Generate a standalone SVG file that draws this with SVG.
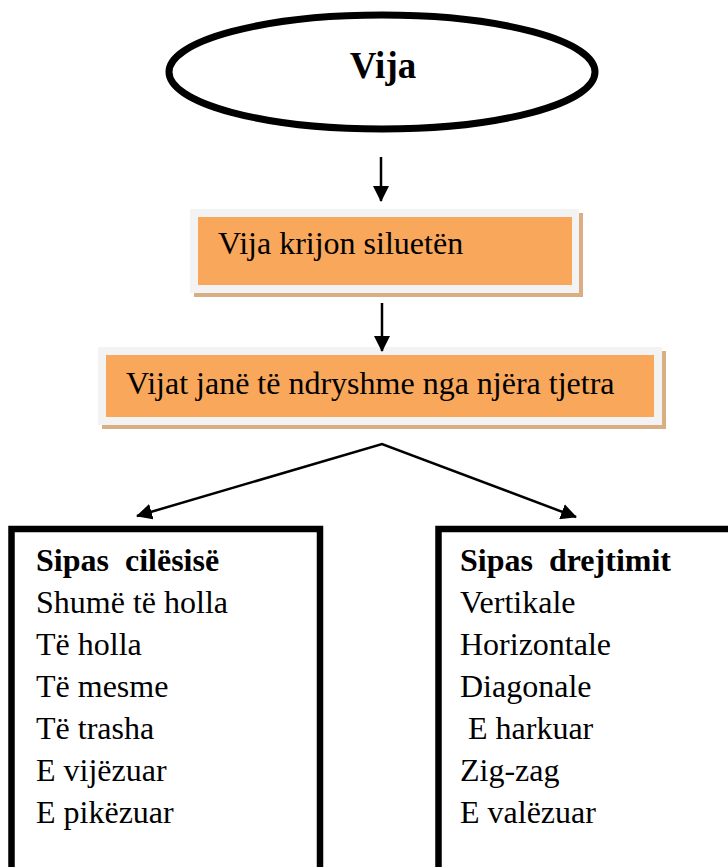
<svg xmlns="http://www.w3.org/2000/svg" width="728" height="867" viewBox="0 0 728 867">
<defs>
<style>
.t{font-family:"Liberation Serif","Times New Roman",serif;fill:#000}
.b{font-weight:bold}
.shadow{fill:#d9ae82}
.frame{fill:#f3f3f3}
.fill{fill:#f9a75a}
.conn{stroke:#000;stroke-width:2.5;fill:none}
.list{fill:#fff;stroke:#000;stroke-width:6.5}
</style>
<marker id="ah" viewBox="0 0 16 16" refX="15" refY="8" markerWidth="16" markerHeight="16" markerUnits="userSpaceOnUse" orient="auto-start-reverse">
<path d="M0,0 L16,8 L0,16 z" fill="#000"/>
</marker>
</defs>
<rect width="728" height="867" fill="#fff"/>
<g id="vija">
<ellipse cx="382" cy="72" rx="213" ry="57" fill="#fff" stroke="#000" stroke-width="7"/>
<text class="t b" x="383" y="78" font-size="37" text-anchor="middle">Vija</text>
</g>
<g id="box1">
<rect class="shadow" x="194" y="213" width="389" height="84"/>
<rect class="frame" x="190" y="209" width="389" height="84"/>
<rect class="fill" x="198" y="217" width="374" height="68"/>
<text class="t" x="218" y="254" font-size="32">Vija krijon siluetën</text>
</g>
<g id="box2">
<rect class="shadow" x="102" y="351" width="564" height="78"/>
<rect class="frame" x="98" y="347" width="564" height="78"/>
<rect class="fill" x="106" y="355" width="548" height="62"/>
<text class="t" x="126" y="394" font-size="32">Vijat janë të ndryshme nga njëra tjetra</text>
</g>
<g id="connectors">
<line class="conn" x1="381" y1="157" x2="381" y2="201" marker-end="url(#ah)"/>
<line class="conn" x1="382" y1="303" x2="382" y2="351" marker-end="url(#ah)"/>
<polyline class="conn" points="137,516 382,444 576,517" marker-start="url(#ah)" marker-end="url(#ah)"/>
</g>
<g id="cilesia">
<rect class="list" x="11.5" y="529" width="308.5" height="400"/>
<text class="t b" x="36" y="571" font-size="32" xml:space="preserve">Sipas  cilësisë</text>
<text class="t" x="36" y="613" font-size="32">Shumë të holla</text>
<text class="t" x="36" y="655" font-size="32">Të holla</text>
<text class="t" x="36" y="697" font-size="32">Të mesme</text>
<text class="t" x="36" y="739" font-size="32">Të trasha</text>
<text class="t" x="36" y="781" font-size="32">E vijëzuar</text>
<text class="t" x="36" y="823" font-size="32">E pikëzuar</text>
</g>
<g id="drejtimi">
<rect class="list" x="438.5" y="529" width="400" height="400"/>
<text class="t b" x="460" y="571" font-size="32" xml:space="preserve">Sipas  drejtimit</text>
<text class="t" x="460" y="613" font-size="32">Vertikale</text>
<text class="t" x="460" y="655" font-size="32">Horizontale</text>
<text class="t" x="460" y="697" font-size="32">Diagonale</text>
<text class="t" x="460" y="739" font-size="32" xml:space="preserve"> E harkuar</text>
<text class="t" x="460" y="781" font-size="32">Zig-zag</text>
<text class="t" x="460" y="823" font-size="32">E valëzuar</text>
</g>
</svg>
